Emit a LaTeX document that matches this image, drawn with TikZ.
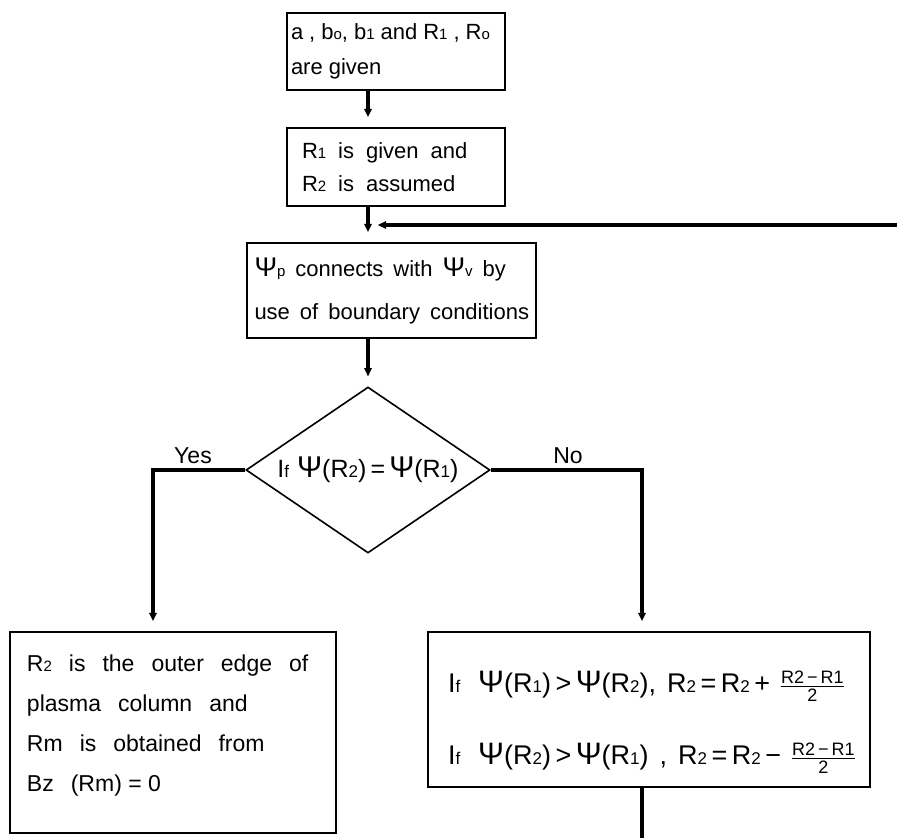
\documentclass[tikz,border=0pt]{standalone}
\usepackage{fontspec}
\setmainfont{Liberation Sans}
\usetikzlibrary{shapes.geometric,arrows.meta}
\newcommand{\lo}[1]{{\fontsize{15}{15}\selectfont #1}}
\newcommand{\Ps}{{\fontsize{27}{27}\selectfont Ψ}}
\newcommand{\half}[1]{$\vcenter{\fontsize{18}{18}\selectfont\offinterlineskip
  \halign{\hfil##\hfil\cr\rule[-1pt]{0pt}{13.5pt}#1\cr\noalign{\kern1.5pt\hrule height .9pt\kern1.5pt}\rule[-1pt]{0pt}{13.5pt}2\cr}}$}

\begin{document}
\begin{tikzpicture}[x=1pt,y=-1pt,
  box/.style={draw,line width=2.2pt,rectangle,inner sep=0pt,align=left},
  flow/.style={line width=3.6pt,-{Latex[length=18pt,width=7pt]}},
  txt/.style n args={3}{font=\fontsize{#1}{#2}\selectfont,execute at begin node={\spaceskip=#3pt plus 1pt\relax}}]
  \useasboundingbox (0,0) rectangle (897,838);
  \coordinate (spine) at (368,0);
  \coordinate (yesdrop) at (153,0);
  \coordinate (nodrop) at (642,0);
  \coordinate (back) at (897,225);
  \coordinate (loop) at (642,838);
  \node at (396,51.5) [box,txt={22}{35}{6},minimum width=218,minimum height=77,text width=210] (init)
    {\mbox{a , b\lo{o}, b\lo{1} and R\lo{1} , R\lo{o}}\\are given};
  \node at (396,167) [box,txt={22}{33}{12},minimum width=218,minimum height=78,text width=188] (guess)
    {R\lo{1} is given and\\R\lo{2} is assumed};
  \node at (391.5,290.5) [box,txt={22}{43}{10},minimum width=289,minimum height=95,text width=274] (match)
    {\mbox{\Ps\lo{p} connects with \Ps\lo{v} by}\\\mbox{use of boundary conditions}};
  \node at (368,470) [draw,diamond,shape aspect=1.47,line width=1.6pt,inner sep=0pt,minimum width=244,minimum height=166,txt={25}{25}{8},
    execute at begin node={\renewcommand{\Ps}{{\fontsize{30}{30}\selectfont Ψ}}\renewcommand{\lo}[1]{{\fontsize{17}{17}\selectfont ##1}}}] (test)
    {I\lo{f} \Ps (R\lo{2})\,=\,\Ps(R\lo{1})};
  \node at (173,732.5) [box,txt={23}{40}{17},minimum width=326,minimum height=201,text width=292] (edge)
    {R\lo{2} is the outer edge of\\plasma column and\\Rm is obtained from\\Bz (Rm)\;=\;0\rule[-18pt]{0pt}{0pt}};
  \node at (649,709.5) [box,txt={27}{72}{11},minimum width=442,minimum height=155,text width=402,
    execute at begin node={\renewcommand{\Ps}{{\fontsize{31}{31}\selectfont Ψ}}\renewcommand{\lo}[1]{{\fontsize{17}{17}\selectfont ##1}}}] (update)
    {\rule{0pt}{48pt}\mbox{I\lo{f}\hspace{18pt}\Ps(R\lo{1})\,>\,\Ps(R\lo{2}), R\lo{2}\,=\,R\lo{2}\,+ \half{R2\,−\,R1}}\\
     \mbox{I\lo{f}\hspace{18pt}\Ps(R\lo{2})\,>\,\Ps(R\lo{1}) , R\lo{2}\,=\,R\lo{2}\,− \half{R2\,−\,R1}}};
  \node at (193,456) [txt={23}{23}{5}] (yes) {Yes};
  \node at (568,456) [txt={23}{23}{5}] (no) {No};
  \draw[flow] (init.south -| spine) -- (guess.north -| spine);
  \draw[flow] (back) -- (back -| spine);
  \draw[flow] (guess.south -| spine) -- (match.north -| spine);
  \draw[flow] (match.south -| spine) -- (test.north);
  \draw[flow] (test.west) -| (edge.north -| yesdrop);
  \draw[flow] (test.east) -| (update.north -| nodrop);
  \draw[line width=3.6pt] (update.south -| nodrop) -- (loop);
\end{tikzpicture}
\end{document}
